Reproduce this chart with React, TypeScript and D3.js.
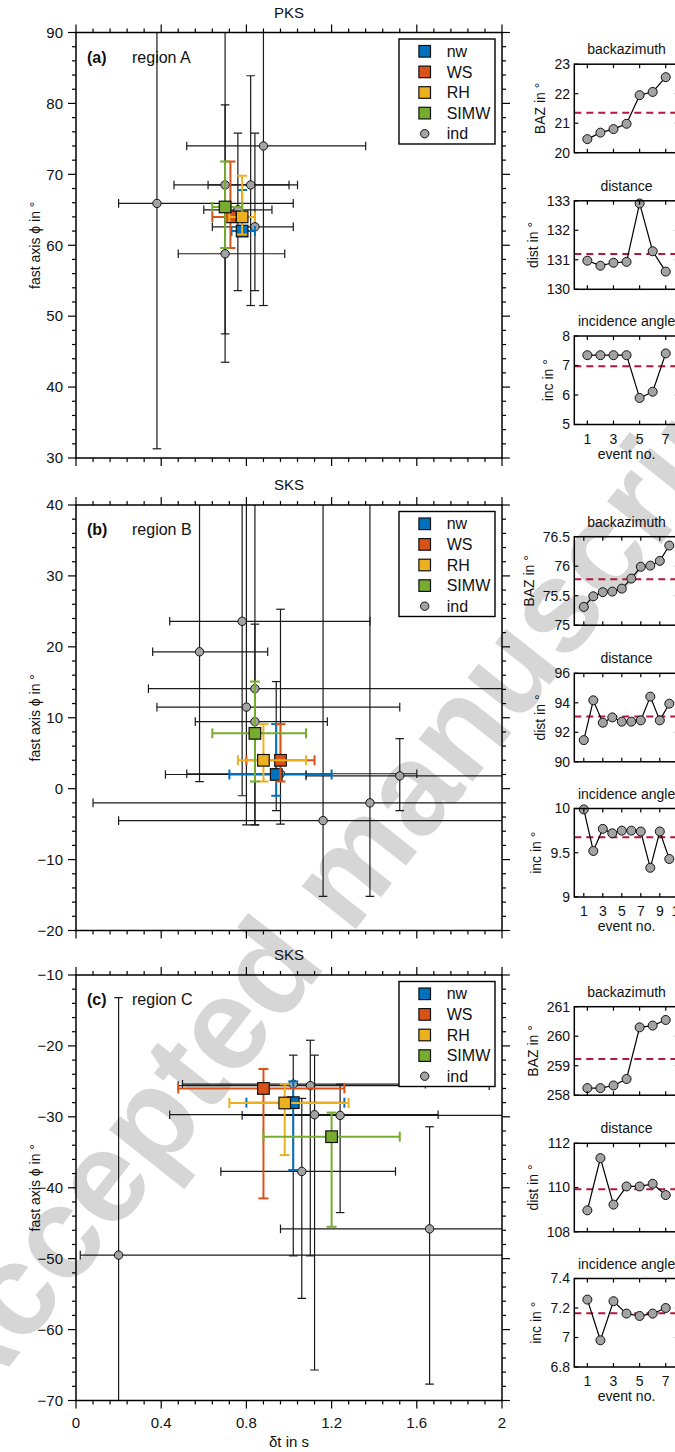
import React from "react";
import * as d3 from "d3";

const FONT = "'Liberation Sans', Arial, Helvetica, sans-serif";

const methodNames = ["nw", "WS", "RH", "SIMW"];
const methodColors = ["#0072bd", "#d95319", "#edb120", "#77ac30"];
const indFill = "#a3a3a3";
const meanColor = "#b2173c";

// individual events: [dt, phi, dt low, dt high, phi low, phi high]
const indA = [
  [0.38, 65.9, 0.2, 1.02, 31.3, 95],
  [0.7, 68.5, 0.46, 1.0, 43.5, 95],
  [0.7, 58.8, 0.48, 0.98, 47.5, 79.8],
  [0.82, 68.5, 0.62, 1.04, 51.5, 83.9],
  [0.88, 74.0, 0.52, 1.36, 51.5, 95],
  [0.84, 62.6, 0.64, 1.02, 53.6, 75.8],
  [0.76, 65.0, 0.6, 0.92, 53.6, 75.8],
];
// averages in order nw, WS, RH, SIMW
const avgA = [
  [0.78, 62.0, 0.73, 0.84, 61.3, 67.8],
  [0.725, 64.0, 0.64, 0.8, 59.6, 71.8],
  [0.78, 64.0, 0.72, 0.84, 61.5, 69.8],
  [0.7, 65.4, 0.64, 0.78, 59.6, 71.8],
];

const indB = [
  [0.58, 19.3, 0.36, 0.9, 1.0, 45],
  [0.78, 23.6, 0.44, 1.38, -1.0, 45],
  [0.84, 14.1, 0.34, 2.3, -5.1, 45],
  [0.8, 11.5, 0.38, 1.52, -5.1, 45],
  [0.84, 9.45, 0.56, 1.18, -5.1, 23.2],
  [0.94, 2.0, 0.42, 1.08, -3.1, 15.1],
  [0.96, 2.1, 0.52, 1.6, -5.0, 25.3],
  [1.52, 1.8, 1.08, 2.3, -3.1, 7.05],
  [1.38, -2.0, 0.08, 2.3, -15.2, 45],
  [1.16, -4.5, 0.2, 2.3, -15.2, 45],
];
const avgB = [
  [0.94, 2.0, 0.72, 1.2, -1.0, 9.1],
  [0.96, 4.0, 0.8, 1.12, 1.0, 9.1],
  [0.88, 4.0, 0.76, 1.08, 1.0, 9.1],
  [0.84, 7.8, 0.64, 1.08, 1.0, 15.1],
];

const indC = [
  [0.2, -49.5, 0.02, 2.3, -75, -13.2],
  [1.02, -25.4, 0.5, 1.64, -49.6, -21.3],
  [1.1, -25.6, 0.48, 1.94, -49.6, -19.2],
  [1.12, -29.7, 0.44, 1.7, -65.7, -21.3],
  [1.24, -29.8, 0.78, 2.3, -43.5, -25.4],
  [1.06, -37.7, 0.68, 1.5, -55.6, -27.4],
  [1.66, -45.8, 0.96, 2.3, -67.7, -31.4],
];
const avgC = [
  [1.02, -28.0, 0.8, 1.26, -37.5, -25.0],
  [0.88, -26.0, 0.48, 1.26, -41.5, -23.25],
  [0.98, -28.05, 0.72, 1.28, -35.4, -25.4],
  [1.2, -32.8, 0.88, 1.52, -45.5, -29.4],
];

const xTickValues = [0, 0.4, 0.8, 1.2, 1.6, 2];
const xTickLabels = ["0", "0.4", "0.8", "1.2", "1.6", "2"];
const yTicksA = [30, 40, 50, 60, 70, 80, 90];
const yTicksB = [-20, -10, 0, 10, 20, 30, 40];
const yTicksC = [-70, -60, -50, -40, -30, -20, -10];

// side panels: event parameters
const bazA = [20.46, 20.68, 20.8, 20.98, 21.95, 22.06, 22.56];
const distA = [130.97, 130.8, 130.9, 130.93, 132.91, 131.29, 130.6];
const incA = [7.35, 7.35, 7.35, 7.35, 5.9, 6.11, 7.41];
const bazB = [75.31, 75.49, 75.56, 75.57, 75.62, 75.79, 75.99, 76.01, 76.09, 76.35];
const distB = [91.47, 94.17, 92.65, 93.01, 92.72, 92.72, 92.81, 94.42, 92.81, 93.94];
const incB = [9.99, 9.52, 9.77, 9.72, 9.75, 9.75, 9.74, 9.33, 9.74, 9.43];
const bazC = [258.24, 258.24, 258.33, 258.55, 260.3, 260.36, 260.55];
const distC = [108.97, 111.33, 109.23, 110.05, 110.05, 110.17, 109.66];
const incC = [7.257, 6.981, 7.246, 7.162, 7.146, 7.162, 7.2];

const bazTicksA = ["20", "21", "22", "23"];
const distTicksA = ["130", "131", "132", "133"];
const incTicksA = ["5", "6", "7", "8"];
const bazTicksB = ["75", "75.5", "76", "76.5"];
const distTicksB = ["90", "92", "94", "96"];
const incTicksB = ["9", "9.5", "10"];
const bazTicksC = ["258", "259", "260", "261"];
const distTicksC = ["108", "110", "112"];
const incTicksC = ["6.8", "7", "7.2", "7.4"];

const X0 = 76;
const X1 = 502;
const PH = 425.5;
const SX0 = 574.3;
const SW = 104.5;
const SH = 88.5;

const fmt = (v: number) => (v < 0 ? "\u2212" + Math.abs(v) : String(v));

function ErrorBar({ d, x, y, color, width, cap }: any) {
  const [dt, phi, dl, dh, pl, ph] = d;
  const cx = x(dt), cy = y(phi);
  const x1 = x(dl), x2 = x(dh), y1 = y(pl), y2 = y(ph);
  return (
    <g stroke={color} strokeWidth={width} fill="none">
      <line x1={x1} x2={x2} y1={cy} y2={cy} />
      <line x1={x1} x2={x1} y1={cy - cap} y2={cy + cap} />
      <line x1={x2} x2={x2} y1={cy - cap} y2={cy + cap} />
      <line x1={cx} x2={cx} y1={y1} y2={y2} />
      <line x1={cx - cap} x2={cx + cap} y1={y1} y2={y1} />
      <line x1={cx - cap} x2={cx + cap} y1={y2} y2={y2} />
    </g>
  );
}

function MainPanel({ id, top, yTicks, title, tag, region, inds, avgs, xLabels }: any) {
  const yMin = yTicks[0], yMax = yTicks[yTicks.length - 1];
  const x = d3.scaleLinear().domain([0, 2]).range([X0, X1]);
  const y = d3.scaleLinear().domain([yMin, yMax]).range([top + PH, top]);
  const bottom = top + PH;
  const minorX = d3.range(0, 2.0001, 0.08);
  const minorY = d3.range(yMin, yMax + 0.001, 2);
  const lg = { x: 399, y: top + 6.5, w: 96, h: 105 };
  return (
    <g>
      <defs>
        <clipPath id={id}>
          <rect x={X0} y={top} width={X1 - X0} height={PH} />
        </clipPath>
      </defs>
      <g clipPath={`url(#${id})`}>
        {inds.map((d: number[], i: number) => (
          <ErrorBar key={i} d={d} x={x} y={y} color="#1a1a1a" width={1.2} cap={4.3} />
        ))}
        {inds.map((d: number[], i: number) => (
          <circle key={i} cx={x(d[0])} cy={y(d[1])} r={4.2} fill={indFill} stroke="#111" strokeWidth={1} />
        ))}
        {avgs.map((d: number[], i: number) => (
          <g key={i}>
            <ErrorBar d={d} x={x} y={y} color={methodColors[i]} width={2} cap={5} />
            <rect x={x(d[0]) - 5.8} y={y(d[1]) - 5.8} width={11.6} height={11.6}
              fill={methodColors[i]} stroke="#111" strokeWidth={1.2} />
          </g>
        ))}
      </g>
      <rect x={X0} y={top} width={X1 - X0} height={PH} fill="none" stroke="#000" strokeWidth={1.5} />
      <g stroke="#000" strokeWidth={1.2}>
        {minorX.map((v, i) => {
          const len = Math.abs(v / 0.4 - Math.round(v / 0.4)) < 1e-6 ? 8 : 4;
          return (
            <g key={i}>
              <line x1={x(v)} x2={x(v)} y1={top} y2={top - len} />
              <line x1={x(v)} x2={x(v)} y1={bottom} y2={bottom + len} />
            </g>
          );
        })}
        {minorY.map((v, i) => {
          const len = Math.abs(v % 10) < 1e-6 ? 8 : 4;
          return (
            <g key={i}>
              <line x1={X0} x2={X0 - len} y1={y(v)} y2={y(v)} />
              <line x1={X1} x2={X1 + len} y1={y(v)} y2={y(v)} />
            </g>
          );
        })}
      </g>
      {yTicks.map((v: number) => (
        <text key={v} x={63} y={y(v)} dy="0.35em" textAnchor="end" fontSize={15}>{fmt(v)}</text>
      ))}
      {xLabels &&
        xTickValues.map((v, i) => (
          <text key={v} x={x(v)} y={bottom + 27} textAnchor="middle" fontSize={15}>{xTickLabels[i]}</text>
        ))}
      {xLabels && (
        <text x={(X0 + X1) / 2} y={bottom + 46} textAnchor="middle" fontSize={15}>δt in s</text>
      )}
      <text x={(X0 + X1) / 2} y={top - 15} textAnchor="middle" fontSize={15}>{title}</text>
      <text transform={`translate(35,${top + PH / 2}) rotate(-90)`} textAnchor="middle" dy="0.35em" fontSize={14}>
        fast axis ϕ in °
      </text>
      <text x={87} y={top + 30} fontSize={16} fontWeight="bold">{tag}</text>
      <text x={132} y={top + 30} fontSize={16}>{region}</text>
      <rect x={lg.x} y={lg.y} width={lg.w} height={lg.h} fill="#fff" stroke="#000" strokeWidth={1.4} />
      {methodNames.map((m, i) => (
        <g key={m}>
          <rect x={424.7 - 5.8} y={lg.y + 12.3 + 20.6 * i - 5.8} width={11.6} height={11.6}
            fill={methodColors[i]} stroke="#111" strokeWidth={1.2} />
          <text x={446.7} y={lg.y + 12.3 + 20.6 * i} dy="0.35em" fontSize={16}>{m}</text>
        </g>
      ))}
      <circle cx={424.7} cy={lg.y + 12.3 + 20.6 * 4} r={4.2} fill={indFill} stroke="#111" strokeWidth={1} />
      <text x={446.7} y={lg.y + 12.3 + 20.6 * 4} dy="0.35em" fontSize={16}>ind</text>
    </g>
  );
}

function SidePanel({ top, values, ticks, title, ylabel, showX }: any) {
  const n = values.length;
  const tv = ticks.map(Number);
  const x = d3.scaleLinear().domain([0, n + 1]).range([SX0, SX0 + SW]);
  const y = d3.scaleLinear().domain([tv[0], tv[tv.length - 1]]).range([top + SH, top]);
  const bottom = top + SH;
  const mean = d3.mean(values) as number;
  const evTicks = d3.range(1, n + 2, 2);
  const line = d3.line<number>().x((_, i) => x(i + 1)).y((v) => y(v));
  const maxW = d3.max(ticks, (t: string) => t.replace(".", "").length * 7.8 + (t.includes(".") ? 3.9 : 0)) as number;
  return (
    <g>
      <text x={SX0 + SW / 2} y={top - 10} textAnchor="middle" fontSize={14}>{title}</text>
      <line x1={SX0} x2={SX0 + SW} y1={y(mean)} y2={y(mean)} stroke={meanColor} strokeWidth={2} strokeDasharray="7,5" />
      <path d={line(values) || ""} fill="none" stroke="#000" strokeWidth={1.2} />
      {values.map((v: number, i: number) => (
        <circle key={i} cx={x(i + 1)} cy={y(v)} r={4.5} fill={indFill} stroke="#111" strokeWidth={1} />
      ))}
      <rect x={SX0} y={top} width={SW} height={SH} fill="none" stroke="#000" strokeWidth={1.5} />
      <g stroke="#000" strokeWidth={1.2}>
        {evTicks.map((e) => (
          <g key={e}>
            <line x1={x(e)} x2={x(e)} y1={top} y2={top + 4} />
            <line x1={x(e)} x2={x(e)} y1={bottom} y2={bottom - 4} />
          </g>
        ))}
        {tv.map((v: number) => (
          <g key={v}>
            <line x1={SX0} x2={SX0 + 4} y1={y(v)} y2={y(v)} />
            <line x1={SX0 + SW} x2={SX0 + SW - 4} y1={y(v)} y2={y(v)} />
          </g>
        ))}
      </g>
      {ticks.map((t: string) => (
        <text key={t} x={570} y={y(Number(t))} dy="0.35em" textAnchor="end" fontSize={14}>{t}</text>
      ))}
      <text transform={`translate(${570 - maxW - 14},${top + SH / 2}) rotate(-90)`} textAnchor="middle" dy="0.35em" fontSize={14}>
        {ylabel}
      </text>
      {showX &&
        evTicks.map((e) => (
          <text key={e} x={x(e)} y={bottom + 19} textAnchor="middle" fontSize={14}>{e}</text>
        ))}
      {showX && (
        <text x={SX0 + SW / 2} y={bottom + 34} textAnchor="middle" fontSize={14}>event no.</text>
      )}
    </g>
  );
}

const sideOffsets = [31.7, 168.3, 303.5];

function SideColumn({ top, baz, dist, inc, bazTicks, distTicks, incTicks }: any) {
  return (
    <g>
      <SidePanel top={top + sideOffsets[0]} values={baz} ticks={bazTicks} title="backazimuth" ylabel="BAZ in °" />
      <SidePanel top={top + sideOffsets[1]} values={dist} ticks={distTicks} title="distance" ylabel="dist in °" />
      <SidePanel top={top + sideOffsets[2]} values={inc} ticks={incTicks} title="incidence angle" ylabel="inc in °" showX />
    </g>
  );
}

export default function App() {
  const tops = [32.5, 505, 975];
  return (
    <svg width={675} height={1452} viewBox="0 0 675 1452"
      style={{ position: "absolute", left: 0, top: 0, background: "#fff" }}
      fontFamily={FONT} fill="#111">
      <text transform="translate(375,905) rotate(-51.6)" textAnchor="middle" fontSize={130}
        fontWeight="bold" fill="#d6d6d6">
        Accepted manuscript
      </text>
      <MainPanel id="clipA" top={tops[0]} yTicks={yTicksA} title="PKS" tag="(a)" region="region A" inds={indA} avgs={avgA} />
      <MainPanel id="clipB" top={tops[1]} yTicks={yTicksB} title="SKS" tag="(b)" region="region B" inds={indB} avgs={avgB} />
      <MainPanel id="clipC" top={tops[2]} yTicks={yTicksC} title="SKS" tag="(c)" region="region C" inds={indC} avgs={avgC} xLabels />
      <SideColumn top={tops[0]} baz={bazA} dist={distA} inc={incA} bazTicks={bazTicksA} distTicks={distTicksA} incTicks={incTicksA} />
      <SideColumn top={tops[1]} baz={bazB} dist={distB} inc={incB} bazTicks={bazTicksB} distTicks={distTicksB} incTicks={incTicksB} />
      <SideColumn top={tops[2]} baz={bazC} dist={distC} inc={incC} bazTicks={bazTicksC} distTicks={distTicksC} incTicks={incTicksC} />
    </svg>
  );
}
